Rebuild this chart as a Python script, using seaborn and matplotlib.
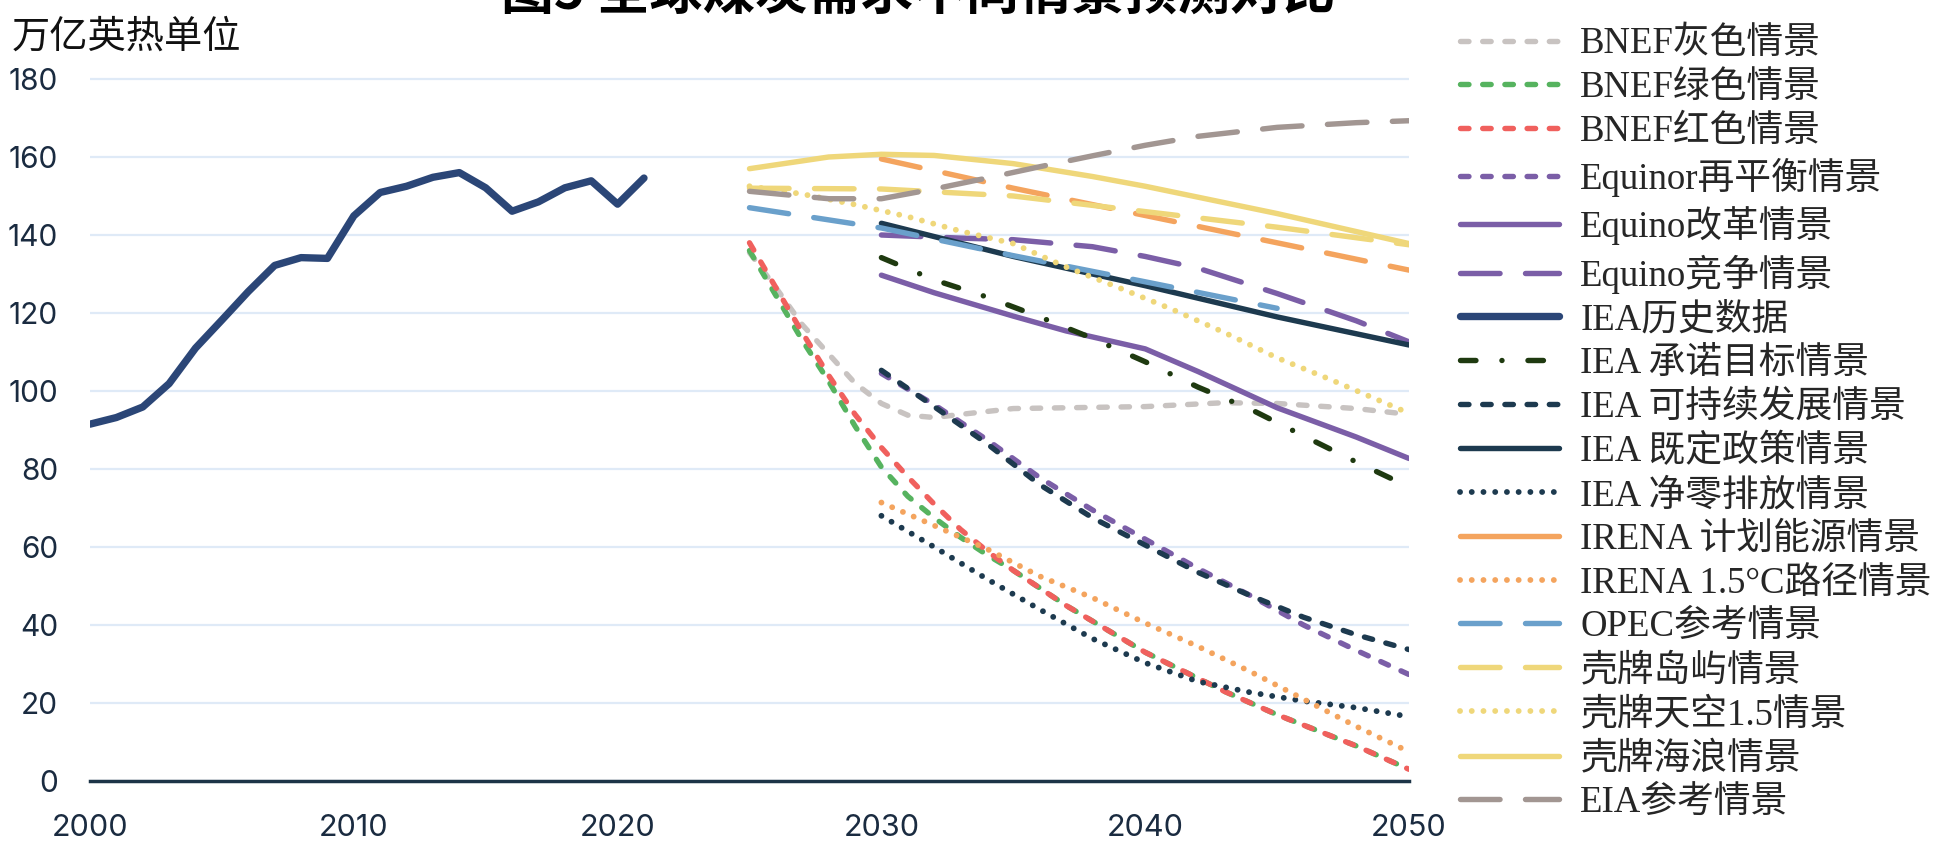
import matplotlib
matplotlib.use("Agg")
import matplotlib.pyplot as plt
from matplotlib.font_manager import FontProperties
import seaborn as sns

sns.set_style("white")
plt.rcParams['font.family'] = ['Inter', 'Noto Sans CJK SC', 'DejaVu Sans']

# ---- data (万亿英热单位) ----
hist_years = list(range(2000, 2022))
hist_vals = [91.5, 93.2, 95.9, 101.9, 111.0, 118.2, 125.5, 132.2, 134.2, 134.0,
             144.9, 150.9, 152.5, 154.8, 156.0, 152.1, 146.1, 148.5, 152.1, 153.9,
             147.9, 154.6]

bnef_gray_years = [2025, 2026, 2027, 2028, 2029, 2030, 2031, 2032, 2033, 2035, 2038, 2040, 2043, 2045, 2048, 2050]
bnef_gray_vals = [135.5, 126.5, 117, 109.5, 102, 96.8, 93.8, 93.2, 94, 95.5, 95.8, 96, 97, 96.8, 95.5, 94]

bnef_years = [2025, 2026, 2027, 2028, 2029, 2030, 2031, 2032, 2033, 2034, 2035, 2037, 2040, 2043, 2045, 2048, 2050]
bnef_green_vals = [136, 124.5, 113, 102.5, 91, 80.5, 73, 67.5, 62.5, 58, 54, 45, 33, 23, 17, 9, 3]
bnef_red_vals = [138, 126.5, 115, 104, 94, 85.5, 78, 71, 64.5, 59, 54, 45, 33, 23, 17, 9, 3]

even_years = [2030, 2032, 2034, 2036, 2038, 2040, 2042, 2044, 2046, 2048, 2050]
equinor_rebalance_vals = [104.5, 96.5, 87.5, 77.8, 69.5, 62, 54.5, 47.5, 40, 33.5, 27.3]

equinor_reform_years = [2030, 2032, 2035, 2037, 2040, 2042, 2045, 2048, 2050]
equinor_reform_vals = [129.7, 125.2, 119.2, 115.4, 110.8, 105, 95.7, 88.2, 82.7]

equinor_rivalry_years = [2030, 2033, 2035, 2038, 2040, 2042, 2045, 2048, 2050]
equinor_rivalry_vals = [140, 139.2, 138.8, 137, 134.5, 131.5, 125, 118, 112.6]

iea_pledges_vals = [134.2, 128.5, 124.1, 119, 113.5, 107.5, 101, 95.3, 88.5, 81.8, 75.4]
iea_sds_vals = [105.3, 96, 86.5, 76, 67.5, 60.5, 53.5, 47.5, 42, 37.5, 33.7]

iea_steps_years = [2030, 2032, 2035, 2038, 2040, 2045, 2050]
iea_steps_vals = [143, 139.6, 134.5, 130, 127, 119, 111.8]

iea_nze_vals = [68, 60, 51.8, 44, 36.5, 30.3, 25.5, 22.7, 20.5, 18.8, 16.5]

five_years = [2030, 2035, 2040, 2045, 2050]
irena_plan_vals = [159.5, 152, 145, 138, 131]
irena_15_vals = [71.4, 65.5, 59.5, 52.5, 47, 40.5, 34.5, 28, 21, 14, 7.5]

opec_years = [2025, 2030, 2035, 2040, 2045]
opec_vals = [147, 141.8, 134.7, 128, 121.2]

shell_islands_years = [2025, 2030, 2035, 2040, 2045, 2050]
shell_islands_vals = [152, 151.8, 150, 146, 142, 137.5]

shell_sky_years = [2025, 2027, 2029, 2031, 2033, 2035, 2037, 2039, 2041, 2043, 2045, 2047, 2050]
shell_sky_vals = [152.5, 150.5, 147.8, 144.7, 141, 137.8, 131.8, 126.5, 121, 115, 108.5, 103, 94.3]

shell_waves_years = [2025, 2028, 2030, 2032, 2035, 2038, 2040, 2045, 2050]
shell_waves_vals = [157, 160, 160.7, 160.4, 158.3, 155, 152.5, 145.5, 137.8]

eia_years = [2025, 2028, 2030, 2032, 2034, 2036, 2038, 2040, 2042, 2045, 2048, 2050]
eia_vals = [151.2, 149.3, 149.3, 151.8, 154.6, 157.5, 160.3, 163, 165.3, 167.6, 168.8, 169.3]

x_ticks = [2000, 2010, 2020, 2030, 2040, 2050]
y_ticks = list(range(0, 181, 20))

# ---- line styles (dash lengths in linewidth units) ----
LW = 3.9
LW_DOT = 4.2
SOLID = '-'
SHORT = (0, (1.56, 2.54))
LONG = (0, (7.3, 4.7))
DOT = (0, (0.01, 2.0))
DASHDOT = (0, (2.85, 4.8, 0.01, 4.8))

GRAY = '#c8c3c1'
GREEN = '#56b35f'
RED = '#f0605d'
PURPLE = '#7b5ea7'
NAVY = '#2b4677'
DKGREEN = '#1f3a10'
SLATE = '#1d3a4f'
ORANGE = '#f4a45e'
BLUE = '#6aa0cb'
YELLOW = '#efd77a'
TAUPE = '#a29692'

series = [
    ('BNEF灰色情景', bnef_gray_years, bnef_gray_vals, GRAY, SHORT, LW),
    ('BNEF绿色情景', bnef_years, bnef_green_vals, GREEN, SHORT, LW),
    ('BNEF红色情景', bnef_years, bnef_red_vals, RED, SHORT, LW),
    ('Equinor再平衡情景', even_years, equinor_rebalance_vals, PURPLE, SHORT, LW),
    ('Equino改革情景', equinor_reform_years, equinor_reform_vals, PURPLE, SOLID, LW),
    ('Equino竞争情景', equinor_rivalry_years, equinor_rivalry_vals, PURPLE, LONG, LW),
    ('IEA历史数据', hist_years, hist_vals, NAVY, SOLID, 5.3),
    ('IEA 承诺目标情景', even_years, iea_pledges_vals, DKGREEN, DASHDOT, LW),
    ('IEA 可持续发展情景', even_years, iea_sds_vals, SLATE, SHORT, LW),
    ('IEA 既定政策情景', iea_steps_years, iea_steps_vals, SLATE, SOLID, LW),
    ('IEA 净零排放情景', even_years, iea_nze_vals, SLATE, DOT, LW_DOT),
    ('IRENA 计划能源情景', five_years, irena_plan_vals, ORANGE, LONG, LW),
    ('IRENA 1.5°C路径情景', even_years, irena_15_vals, ORANGE, DOT, LW_DOT),
    ('OPEC参考情景', opec_years, opec_vals, BLUE, LONG, LW),
    ('壳牌岛屿情景', shell_islands_years, shell_islands_vals, YELLOW, LONG, LW),
    ('壳牌天空1.5情景', shell_sky_years, shell_sky_vals, YELLOW, DOT, LW_DOT),
    ('壳牌海浪情景', shell_waves_years, shell_waves_vals, YELLOW, SOLID, LW),
    ('EIA参考情景', eia_years, eia_vals, TAUPE, LONG, LW),
]

W, H = 1937, 841
fig = plt.figure(figsize=(W / 100, H / 100), dpi=100)
ax_left, ax_right, ax_bottom, ax_top = 90, 1409, 781, 75.1
ax = fig.add_axes([ax_left / W, 1 - ax_bottom / H, (ax_right - ax_left) / W, (ax_bottom - ax_top) / H])

for label, yrs, vals, color, ls, lw in series:
    sns.lineplot(x=yrs, y=vals, ax=ax, color=color, linewidth=lw, linestyle=ls,
                 dash_capstyle='round', solid_capstyle='round', solid_joinstyle='round',
                 label=label, sort=False, estimator=None, legend=False)

ax.set_xlim(2000, 2050)
ax.set_ylim(0, 181)
ax.set_xticks(x_ticks)
ax.set_yticks(y_ticks)
ax.set_xlabel('')
ax.set_ylabel('')
tick_color = '#1a2b40'
ax.tick_params(axis='y', length=0, pad=23, labelsize=21.5, labelcolor=tick_color)
ax.tick_params(axis='x', length=0, pad=24, labelsize=22, labelcolor=tick_color)
for lab in ax.get_xticklabels() + ax.get_yticklabels():
    lab.set_family(['Inter', 'DejaVu Sans'])

for s in ['left', 'top', 'right']:
    ax.spines[s].set_visible(False)
ax.spines['bottom'].set_color('#1d3447')
ax.spines['bottom'].set_linewidth(2.5)
ax.spines['bottom'].set_zorder(5)
ax.yaxis.grid(True, color='#dfeaf7', linewidth=1.6)
ax.xaxis.grid(False)
ax.set_axisbelow(True)

# legend on the right
handles, labels = ax.get_legend_handles_labels()
leg_font = FontProperties(family=['Liberation Serif', 'Noto Sans CJK SC'], size=26.5)
leg = ax.legend(handles, labels, loc='upper left',
                bbox_to_anchor=(1460 / W, 1 - 27 / H), bbox_transform=fig.transFigure,
                frameon=False, prop=leg_font, handlelength=2.7, handletextpad=0.57,
                labelspacing=0.25, borderpad=0, borderaxespad=0)
for line, text in zip(leg.get_lines(), leg.get_texts()):
    if text.get_text() == 'IRENA 计划能源情景':
        line.set_linestyle('-')

fig.text(12 / W, 1 - 18 / H, '万亿英热单位', ha='left', va='top', fontsize=27.5,
         family=['Noto Sans CJK SC'], color='#111111')
fig.text(918 / W, 1 - 9 / H, '图5 全球煤炭需求不同情景预测对比', ha='center', va='baseline',
         fontsize=38, fontweight='bold', family=['Noto Sans CJK SC'], color='black')

fig.savefig('out.png', dpi=100)
